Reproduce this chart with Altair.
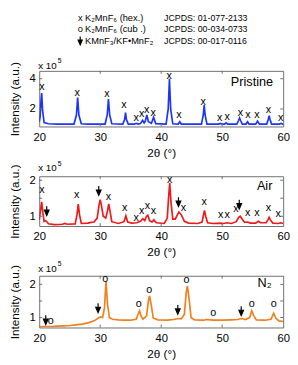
import altair as alt
import pandas as pd

FONT = "Liberation Sans"
FRAME = "#6e6e6e"
W = 250
H1, H2, H3 = 57, 51, 53

x_tick_values = [20, 30, 40, 50, 60]
x_inner_ticks = [30, 40, 50]

pristine_x = [20.0, 20.15, 20.3, 20.4, 20.55, 20.8, 21.5, 23.0, 25.7, 26.1, 26.3, 26.5, 26.9, 28.0,
              30.8, 31.15, 31.35, 31.55, 31.9, 33.7, 34.0, 34.15, 34.3, 34.6, 35.6, 35.9, 36.2,
              36.6, 36.95, 37.2, 37.4, 37.65, 37.9, 38.4, 38.75, 39.1, 40.8, 41.15, 41.35, 41.55,
              41.9, 42.8, 43.05, 43.3, 46.6, 46.9, 47.05, 47.2, 47.5, 49.4, 49.7, 50.0, 50.4, 50.65,
              50.9, 52.4, 52.7, 52.85, 53.0, 53.3, 53.9, 54.15, 54.4, 55.5, 55.8, 56.1, 57.3, 57.55,
              57.7, 57.85, 58.1, 59.4, 59.65, 59.9, 60.0]
pristine_y = [1.15, 1.5, 2.6, 3.05, 1.9, 1.1, 1.02, 1.0, 1.0, 1.6, 2.75, 1.6, 1.02, 1.0,
              1.0, 1.6, 2.65, 1.6, 1.02, 1.0, 1.3, 1.75, 1.3, 1.0, 1.0, 1.05, 1.0,
              1.03, 1.25, 1.08, 1.2, 1.6, 1.15, 1.05, 1.45, 1.03, 1.0, 2.0, 4.0, 2.0,
              1.02, 1.0, 1.15, 1.0, 1.0, 1.6, 2.25, 1.6, 1.0, 1.0, 1.04, 1.0, 1.0, 1.08,
              1.0, 1.0, 1.25, 1.4, 1.25, 1.0, 1.0, 1.15, 1.0, 1.0, 1.2, 1.0, 1.0, 1.3,
              1.55, 1.3, 1.0, 1.0, 1.05, 1.0, 1.0]
pristine_hex_x = [20.43, 26.24, 31.1, 33.9, 35.9, 36.8, 37.6, 38.7, 41.3, 42.9, 46.9, 49.6, 50.8,
                  53.0, 54.2, 55.7, 57.6, 59.6]
pristine_hex_y = [3.42, 3.08, 2.99, 2.28, 1.42, 1.63, 1.95, 1.74, 4.17, 1.59, 2.45, 1.37, 1.46,
                  1.70, 1.59, 1.59, 1.95, 1.42]

air_x = [20.0, 20.2, 20.4, 20.6, 20.8, 21.0, 21.2, 21.5, 22.5, 23.8, 24.2, 24.6, 25.9, 26.2, 26.4,
         26.6, 26.9, 28.0, 28.5, 29.0, 29.5, 29.8, 30.0, 30.2, 30.5, 30.9, 31.2, 31.4, 31.6, 31.9,
         33.0, 33.9, 34.2, 34.5, 35.2, 36.0, 36.6, 37.0, 37.3, 37.6, 37.8, 38.1, 38.5, 38.8, 39.2,
         40.5, 41.0, 41.2, 41.4, 41.6, 41.9, 42.3, 42.9, 43.3, 43.8, 44.5, 46.0, 46.7, 46.95, 47.1,
         47.3, 47.6, 48.5, 49.8, 50.2, 50.8, 51.5, 52.3, 52.7, 52.95, 53.3, 53.7, 54.2, 54.6, 55.5,
         55.9, 56.3, 57.2, 57.5, 57.7, 57.9, 58.3, 59.2, 59.6, 60.0]
air_y = [0.9, 1.15, 1.4, 1.1, 0.86, 0.88, 0.86, 0.79, 0.77, 0.78, 0.8, 0.78, 0.79, 1.05, 1.34,
         1.05, 0.8, 0.81, 0.83, 0.84, 0.95, 1.3, 1.46, 1.3, 1.0, 0.95, 1.15, 1.34, 1.15, 0.85,
         0.8, 0.85, 1.01, 0.84, 0.81, 0.82, 0.86, 0.93, 0.88, 1.0, 1.03, 0.88, 0.84, 0.9, 0.82,
         0.8, 0.95, 1.5, 1.92, 1.4, 0.92, 0.92, 1.12, 1.04, 0.86, 0.81, 0.8, 0.84, 1.05, 1.16,
         1.0, 0.82, 0.8, 0.81, 0.8, 0.82, 0.8, 0.85, 0.97, 1.0, 0.92, 0.83, 0.84, 0.81, 0.81,
         0.86, 0.82, 0.82, 0.9, 0.97, 0.9, 0.81, 0.8, 0.82, 0.8]
air_hex_x = [20.43, 26.13, 31.36, 34.03, 35.89, 36.8, 37.76, 38.72, 41.39, 43.63, 47.04, 49.76,
             50.83, 52.27, 54.19, 55.68, 57.6, 59.2]
air_hex_y = [1.72, 1.58, 1.53, 1.22, 0.95, 1.15, 1.29, 1.15, 2.01, 1.22, 1.4, 1.04, 1.04, 1.2,
             1.09, 1.09, 1.22, 1.05]
air_arrow_x = [21.23, 29.76, 42.83, 52.8]
air_arrow_y = [1.15, 1.71, 1.4, 1.33]

n2_x = [20.0, 21.0, 22.0, 23.0, 24.0, 25.0, 26.0, 27.0, 28.0, 29.0, 29.6, 30.0, 30.4, 30.7, 30.95,
        31.2, 31.5, 32.0, 33.0, 34.0, 35.0, 35.9, 36.2, 36.45, 36.7, 37.0, 37.6, 37.9, 38.1, 38.35,
        38.7, 39.5, 41.0, 42.0, 42.8, 43.3, 43.8, 44.1, 44.3, 44.55, 44.9, 45.5, 47.0, 47.4, 48.5,
        50.0, 51.5, 52.5, 53.2, 53.8, 54.5, 54.85, 55.2, 55.6, 57.0, 58.0, 58.45, 58.8, 59.3, 60.0]
n2_y = [0.72, 0.73, 0.73, 0.74, 0.75, 0.76, 0.78, 0.8, 0.84, 0.9, 0.97, 1.02, 1.0, 1.3, 2.1,
        1.4, 1.0, 0.95, 0.93, 0.92, 0.92, 0.95, 1.1, 1.2, 1.05, 0.95, 1.05, 1.5, 1.65, 1.4,
        0.98, 0.93, 0.92, 0.94, 0.97, 0.96, 1.1, 1.75, 1.95, 1.6, 1.0, 0.93, 0.92, 0.94, 0.92,
        0.92, 0.93, 0.94, 0.97, 0.94, 1.0, 1.2, 1.05, 0.93, 0.92, 0.95, 1.13, 0.98, 0.9, 0.88]
n2_cub_x = [21.87, 30.83, 36.32, 38.03, 44.16, 48.53, 54.83, 58.45]
n2_cub_y = [0.88, 2.16, 1.42, 1.83, 2.14, 1.13, 1.42, 1.4]
n2_arrow_x = [21.07, 29.65, 42.72, 53.12]
n2_arrow_y = [0.93, 1.29, 1.24, 1.2]

legend_symbols = ["x", "o", "arrow"]
legend_names = ["K₂MnF₆ (hex.)", "K₂MnF₆ (cub .)", "KMnF₃/KF•MnF₂"]
legend_refs = ["JCPDS: 01-077-2133", "JCPDS: 00-034-0733", "JCPDS: 00-017-0116"]

ARROW = "M0,-1L0,-0.1M-0.5,-0.15L0.5,-0.15L0,1Z"


def arrow_mark():
    return dict(shape=ARROW, filled=True, color="black", fill="black", stroke="black",
                strokeWidth=1.2, size=90, opacity=1)


def panel(xs, ys, color, ydom, yticks, h, name, name_x, name_y, sym, sx, sy,
          ax=None, ay=None, exp_y=-6, legend=False):
    xsc = alt.Scale(domain=[20, 60], nice=False, zero=False)
    ysc = alt.Scale(domain=ydom, nice=False, zero=False)
    layers = []
    layers.append(
        alt.Chart(pd.DataFrame({"tt": xs, "inten": ys})).mark_line(
            color=color, strokeWidth=1.7, clip=True).encode(
            x=alt.X("tt:Q", scale=xsc, axis=alt.Axis(
                values=x_tick_values, title="2θ (°)", ticks=False, domain=False, grid=False,
                labelPadding=5, titlePadding=5, labelFlush=False)),
            y=alt.Y("inten:Q", scale=ysc, axis=alt.Axis(
                values=yticks, format="~g", title="Intensity (a.u.)", ticks=False,
                domain=False, grid=False, labelPadding=4, titleX=-18, titleY=h / 2)),
        )
    )
    xt = pd.DataFrame({"t": x_inner_ticks})
    yt = pd.DataFrame({"t": yticks})
    layers.append(alt.Chart(xt).mark_rule(color=FRAME, strokeWidth=1).encode(
        x=alt.X("t:Q", scale=xsc), y=alt.value(h), y2=alt.value(h - 3)))
    layers.append(alt.Chart(xt).mark_rule(color=FRAME, strokeWidth=1).encode(
        x=alt.X("t:Q", scale=xsc), y=alt.value(0), y2=alt.value(3)))
    layers.append(alt.Chart(yt).mark_rule(color=FRAME, strokeWidth=1).encode(
        y=alt.Y("t:Q", scale=ysc), x=alt.value(0), x2=alt.value(3)))
    layers.append(alt.Chart(yt).mark_rule(color=FRAME, strokeWidth=1).encode(
        y=alt.Y("t:Q", scale=ysc), x=alt.value(W), x2=alt.value(W - 3)))
    layers.append(alt.Chart(pd.DataFrame({"p": sx, "v": sy})).mark_text(
        text=sym, fontSize=11, color="black").encode(
        x=alt.X("p:Q", scale=xsc), y=alt.Y("v:Q", scale=ysc)))
    if ax:
        layers.append(alt.Chart(pd.DataFrame({"p": ax, "v": ay})).mark_point(**arrow_mark()).encode(
            x=alt.X("p:Q", scale=xsc), y=alt.Y("v:Q", scale=ysc)))
    one = pd.DataFrame({"k": [0]})
    layers.append(alt.Chart(one).mark_text(text=name, fontSize=13, align="center", color="black").encode(
        x=alt.value(name_x), y=alt.value(name_y)))
    layers.append(alt.Chart(one).mark_text(text="x 10", fontSize=10, align="left", color="black").encode(
        x=alt.value(-1), y=alt.value(exp_y)))
    layers.append(alt.Chart(one).mark_text(text="5", fontSize=7, align="left", color="black").encode(
        x=alt.value(19), y=alt.value(exp_y - 5)))
    if legend:
        rows = [-54, -42.5, -31]
        for i in range(3):
            if legend_symbols[i] == "arrow":
                layers.append(alt.Chart(one).mark_point(**dict(arrow_mark(), size=70)).encode(
                    x=alt.value(42), y=alt.value(rows[i])))
            else:
                layers.append(alt.Chart(one).mark_text(text=legend_symbols[i], fontSize=9.5,
                                                       align="center", color="black").encode(
                    x=alt.value(42), y=alt.value(rows[i])))
            layers.append(alt.Chart(one).mark_text(text=legend_names[i], fontSize=9.5,
                                                   align="left", color="black").encode(
                x=alt.value(47), y=alt.value(rows[i])))
            layers.append(alt.Chart(one).mark_text(text=legend_refs[i], fontSize=9,
                                                   align="left", color="black").encode(
                x=alt.value(128), y=alt.value(rows[i])))
    return alt.layer(*layers).properties(width=W, height=h)


p1 = panel(pristine_x, pristine_y, "#1a33ff", [0.84, 4.52], [2, 4], H1, "Pristine", 218, 12,
           "x", pristine_hex_x, pristine_hex_y, exp_y=-5, legend=True)
p2 = panel(air_x, air_y, "#f01818", [0.73, 2.11], [1, 1.5, 2], H2, "Air", 231, 10,
           "x", air_hex_x, air_hex_y, air_arrow_x, air_arrow_y, exp_y=-8)
p3 = panel(n2_x, n2_y, "#f07f1c", [0.7, 2.26], [1, 1.5, 2], H3, "N₂", 231, 7,
           "o", n2_cub_x, n2_cub_y, n2_arrow_x, n2_arrow_y, exp_y=-7)

chart = alt.vconcat(p1, p2, p3, spacing=51, bounds="flush").properties(
    padding={"left": 0, "top": 0, "right": 0, "bottom": 0}
).configure(font=FONT).configure_view(stroke=FRAME, strokeWidth=1).configure_axis(
    labelFontSize=11.5, titleFontSize=12, labelColor="black", titleColor="black",
    titleFontWeight="normal", labelFont=FONT, titleFont=FONT
)

chart.save("out.html", embed_options={"renderer": "svg", "actions": False})
